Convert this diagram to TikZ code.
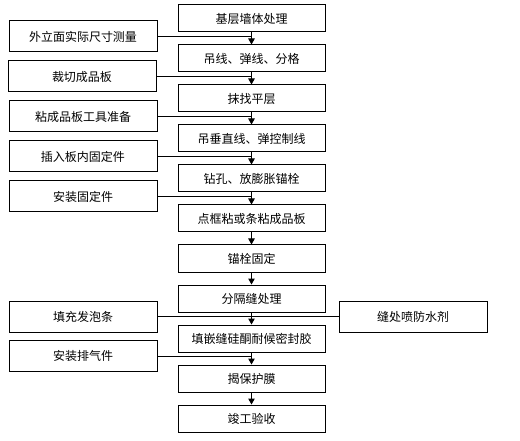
\documentclass[tikz,border=0pt]{standalone}
\usepackage{fontspec}
\newfontfamily\cjk{Noto Sans CJK SC}
\usetikzlibrary{arrows.meta, positioning, calc}

\tikzset{
  mainbox/.style={draw,line width=1pt,minimum width=147pt,minimum height=27pt,inner sep=1pt},
  sidebox/.style={draw,line width=1pt,minimum width=148pt,minimum height=31pt,inner sep=1pt},
  flow/.style={line width=1pt}
}

\begin{document}
\begin{tikzpicture}[x=1pt,y=-1pt,font=\cjk\fontsize{12}{14}\selectfont,>={Triangle[length=6pt,width=6.5pt]}]
\useasboundingbox (0,0) rectangle (520,441);

% ==================== Colonna centrale ====================
\node[mainbox] (s1)  at (251.5,18.5)  {基层墙体处理};
\node[mainbox] (s2)  at (251.5,58.5)  {吊线、弹线、分格};
\node[mainbox] (s3)  at (251.5,98.5)  {抹找平层};
\node[mainbox] (s4)  at (251.5,138.5) {吊垂直线、弹控制线};
\node[mainbox] (s5)  at (251.5,178.5) {钻孔、放膨胀锚栓};
\node[mainbox] (s6)  at (251.5,218.5) {点框粘或条粘成品板};
\node[mainbox] (s7)  at (251.5,258.5) {锚栓固定};
\node[mainbox] (s8)  at (251.5,298.5) {分隔缝处理};
\node[mainbox] (s9)  at (251.5,338.5) {填嵌缝硅酮耐候密封胶};
\node[mainbox] (s10) at (251.5,378.5) {揭保护膜};
\node[mainbox] (s11) at (251.5,418.5) {竣工验收};

% Frecce
\foreach \a/\b in {s1/s2,s2/s3,s3/s4,s4/s5,s5/s6,s6/s7,s7/s8,s8/s9,s9/s10,s10/s11}
  \draw[flow,->] (\a) -- (\b);

% ==================== Lavori laterali ====================
\node[sidebox] (l1) at (83,36.5)  {外立面实际尺寸测量};
\node[sidebox] (l2) at (82,76.5)  {裁切成品板};
\node[sidebox] (l3) at (83,116.5) {粘成品板工具准备};
\node[sidebox] (l4) at (83,156.5) {插入板内固定件};
\node[sidebox] (l5) at (83,196.5) {安装固定件};
\node[sidebox] (l6) at (83,316.5) {填充发泡条};
\node[sidebox] (l7) at (83,356)   {安装排气件};
\node[sidebox] (r1) at (413,316.5) {缝处喷防水剂};

% Linee verso la colonna
\foreach \l/\s in {l1/s1,l2/s2,l3/s3,l4/s4,l5/s5,l6/s8,l7/s9}
  \draw[flow] (\l.east) -- (\l.east -| \s.south);
\draw[flow] (r1.west) -- (r1.west -| s8.south);

\end{tikzpicture}
\end{document}
